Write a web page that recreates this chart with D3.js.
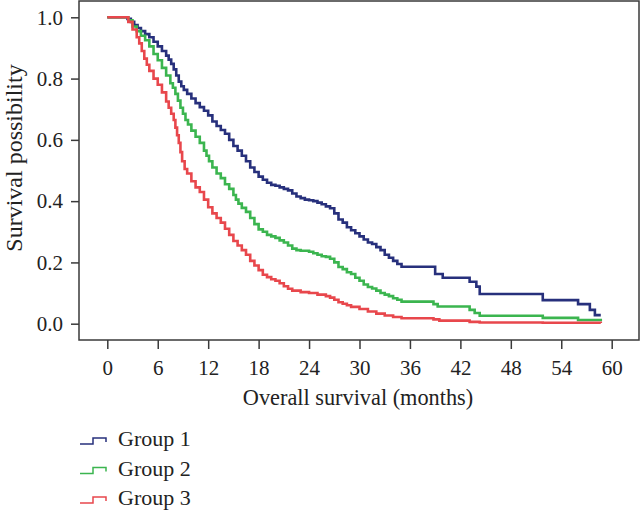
<!DOCTYPE html>
<html><head><meta charset="utf-8">
<script src="https://cdn.jsdelivr.net/npm/d3@7"></script>
<style>html,body{margin:0;padding:0;background:#fff;}svg{display:block;}</style>
</head><body>
<svg id="chart" width="640" height="511"></svg>
<script>
const groups = ["Group 1", "Group 2", "Group 3"];
const colors = ["#27307c", "#3bb54f", "#e8474c"];
const xTicks = [0, 6, 12, 18, 24, 30, 36, 42, 48, 54, 60];
const yTicks = [0.0, 0.2, 0.4, 0.6, 0.8, 1.0];

const group1 = [
[0,1.0],[2.4,0.995],[2.8,0.985],[3.2,0.975],[3.6,0.965],[4.0,0.955],[4.5,0.945],[5.0,0.935],[5.5,0.92],[6.0,0.905],
[6.5,0.89],[7.0,0.875],[7.3,0.862],[7.6,0.848],[7.9,0.83],[8.2,0.81],[8.5,0.79],[8.8,0.775],[9.1,0.763],[9.5,0.75],
[10.0,0.735],[10.5,0.72],[11.0,0.707],[11.5,0.695],[12.0,0.68],[12.5,0.66],[13.0,0.645],[13.5,0.632],[14.0,0.62],[14.5,0.6],
[15.0,0.58],[15.5,0.565],[16.0,0.548],[16.5,0.53],[17.0,0.51],[17.5,0.495],[18.0,0.48],[18.5,0.47],[19.0,0.46],[19.5,0.453],
[20.0,0.45],[20.5,0.445],[21.0,0.44],[21.5,0.435],[22.0,0.425],[22.5,0.415],[23.0,0.41],[23.5,0.405],[24.0,0.403],[24.5,0.4],
[25.0,0.395],[25.5,0.39],[26.0,0.383],[26.5,0.377],[27.0,0.36],[27.5,0.34],[28.0,0.33],[28.5,0.315],[29.0,0.305],[29.5,0.295],
[30.0,0.285],[30.5,0.275],[31.0,0.265],[31.5,0.26],[32.0,0.25],[32.5,0.24],[33.0,0.225],[33.5,0.215],[34.0,0.205],[34.5,0.195],
[35.0,0.186],[39.0,0.162],[39.9,0.15],[43.1,0.137],[43.9,0.121],[44.3,0.097],[51.8,0.077],[56.0,0.064],[57.4,0.045],[58.0,0.028],
[58.7,0.028]
];
const group2 = [
[0,1.0],[2.5,0.99],[3.0,0.97],[3.5,0.955],[4.0,0.94],[4.5,0.925],[5.0,0.905],[5.5,0.88],[6.0,0.86],[6.5,0.835],
[7.0,0.81],[7.5,0.785],[7.8,0.77],[8.1,0.75],[8.4,0.728],[8.7,0.705],[9.0,0.685],[9.3,0.665],[9.6,0.65],[10.0,0.63],
[10.5,0.61],[11.0,0.59],[11.5,0.565],[11.8,0.548],[12.1,0.53],[12.5,0.51],[13.0,0.49],[13.5,0.475],[14.0,0.455],[14.5,0.44],
[15.0,0.42],[15.3,0.405],[15.6,0.392],[16.0,0.378],[16.5,0.365],[17.0,0.345],[17.5,0.325],[18.0,0.308],[18.5,0.3],[19.0,0.29],
[19.5,0.285],[20.0,0.28],[20.5,0.272],[21.0,0.265],[21.5,0.255],[22.0,0.245],[22.5,0.24],[23.0,0.238],[24.0,0.235],[24.5,0.23],
[25.0,0.225],[25.5,0.22],[26.0,0.218],[26.5,0.212],[27.0,0.2],[27.5,0.185],[28.0,0.178],[28.5,0.168],[29.0,0.162],[29.5,0.15],
[30.0,0.14],[30.5,0.128],[31.0,0.12],[31.5,0.115],[32.0,0.108],[32.5,0.1],[33.0,0.095],[33.5,0.09],[34.0,0.083],[34.5,0.078],
[35.0,0.072],[38.8,0.064],[39.3,0.056],[43.1,0.045],[43.7,0.035],[44.3,0.026],[51.8,0.019],[56.0,0.012],[58.7,0.008]
];
const group3 = [
[0,1.0],[2.5,0.985],[3.0,0.96],[3.5,0.935],[3.8,0.915],[4.1,0.89],[4.4,0.865],[4.7,0.845],[5.0,0.825],[5.5,0.8],
[6.0,0.78],[6.5,0.755],[7.0,0.725],[7.3,0.705],[7.6,0.685],[7.9,0.665],[8.1,0.64],[8.3,0.615],[8.5,0.59],[8.7,0.56],
[8.9,0.53],[9.2,0.505],[9.5,0.49],[10.0,0.465],[10.5,0.445],[11.0,0.43],[11.5,0.405],[12.0,0.38],[12.5,0.36],[13.0,0.345],
[13.5,0.33],[14.0,0.31],[14.5,0.29],[15.0,0.27],[15.5,0.255],[16.0,0.24],[16.5,0.225],[17.0,0.205],[17.5,0.19],[18.0,0.175],
[18.5,0.16],[19.0,0.152],[19.5,0.145],[20.0,0.14],[20.5,0.132],[21.0,0.122],[21.5,0.114],[22.0,0.108],[23.0,0.103],[24.0,0.1],
[25.0,0.095],[26.0,0.09],[26.5,0.085],[27.0,0.078],[27.5,0.07],[28.0,0.065],[28.5,0.06],[29.0,0.055],[30.0,0.048],[31.0,0.04],
[32.0,0.033],[33.0,0.027],[34.0,0.022],[35.0,0.018],[38.8,0.014],[39.5,0.01],[43.1,0.006],[44.3,0.004],[51.8,0.003],[58.7,0.002]
];
const series = [group1, group2, group3];

const FONT = "'Liberation Serif', 'Times New Roman', serif";
const svg = d3.select("#chart");
const frame = {left: 79, top: 1, right: 639, bottom: 340};

const x = d3.scaleLinear().domain([0, 60]).range([107.3, 611.7]);
const y = d3.scaleLinear().domain([0, 1]).range([323.7, 17.3]);

// frame
svg.append("rect")
  .attr("x", frame.left).attr("y", frame.top)
  .attr("width", frame.right - frame.left).attr("height", frame.bottom - frame.top)
  .attr("fill", "none").attr("stroke", "#3a3a3a").attr("stroke-width", 1.5);

// axes
const yAxis = d3.axisLeft(y).tickValues(yTicks).tickFormat(d3.format(".1f")).tickSize(8).tickPadding(8);
const gy = svg.append("g").attr("transform", `translate(${frame.left},0)`).call(yAxis);
const xAxis = d3.axisBottom(x).tickValues(xTicks).tickFormat(d3.format("d")).tickSize(9).tickPadding(11);
const gx = svg.append("g").attr("transform", `translate(0,${frame.bottom})`).call(xAxis);
[gx, gy].forEach(g => {
  g.select(".domain").remove();
  g.selectAll(".tick line").attr("stroke", "#3a3a3a").attr("stroke-width", 1.5);
  g.selectAll(".tick text").attr("fill", "#222").style("font-family", FONT).style("font-size", "21px");
});

// titles
svg.append("text").attr("x", 358).attr("y", 405).attr("text-anchor", "middle")
  .style("font-family", FONT).style("font-size", "22.3px").attr("fill", "#222")
  .text("Overall survival (months)");
svg.append("text").attr("transform", "translate(22,158) rotate(-90)").attr("text-anchor", "middle")
  .style("font-family", FONT).style("font-size", "24px").attr("fill", "#222")
  .text("Survival possibility");

// curves
const line = d3.line().x(d => x(d[0])).y(d => y(d[1])).curve(d3.curveStepAfter);
series.forEach((s, i) => {
  svg.append("path").datum(s).attr("d", line)
    .attr("fill", "none").attr("stroke", colors[i]).attr("stroke-width", 2.6)
    .attr("stroke-linejoin", "miter");
});

// legend
const lg = svg.append("g");
groups.forEach((g, i) => {
  const by = 446 + i * 29.5;
  lg.append("path")
    .attr("d", `M80,${by - 2}H93V${by - 8}H106V${by - 4}`)
    .attr("fill", "none").attr("stroke", colors[i]).attr("stroke-width", 1.5);
  lg.append("text").attr("x", 118).attr("y", by)
    .style("font-family", FONT).style("font-size", "22px").attr("fill", "#222")
    .text(g);
});
</script>
</body></html>
